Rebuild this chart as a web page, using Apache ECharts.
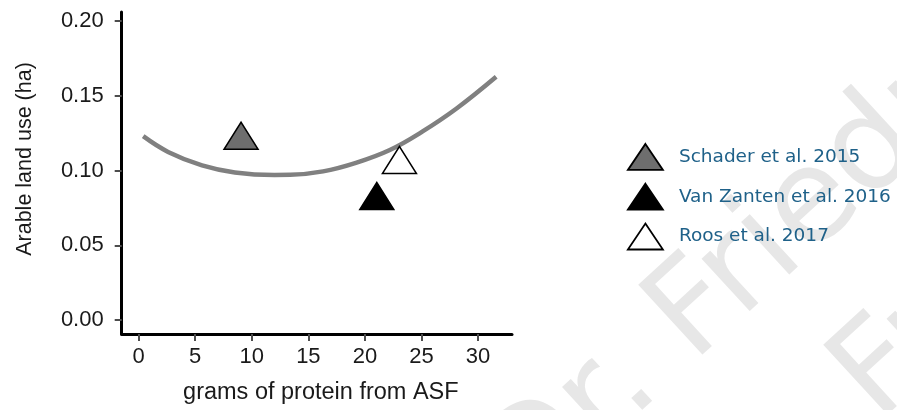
<!DOCTYPE html>
<html>
<head>
<meta charset="utf-8">
<script src="https://cdn.jsdelivr.net/npm/echarts@6/dist/echarts.min.js"></script>
<style>
  html, body { margin: 0; padding: 0; background: #ffffff; }
  #chart { width: 897px; height: 410px; }
</style>
</head>
<body>
<div id="chart"></div>
<script>
// ---- data ----
const xTicks = [0, 5, 10, 15, 20, 25, 30];
const yTicks = [0, 0.05, 0.10, 0.15, 0.20];

// fitted curve
const curveX = [0.4, 2.6, 5.6, 8.5, 12.0, 13.4, 16.3, 19.2, 22.2, 25.1, 28.1, 31.6];
const curveY = [0.123, 0.1125, 0.1035, 0.0988, 0.0971, 0.0972, 0.0995, 0.1052, 0.1138, 0.1262, 0.1415, 0.1627];

// studies
const studyNames = ['Schader et al. 2015', 'Van Zanten et al. 2016', 'Roos et al. 2017'];
const studyX = [9.05, 21.05, 23.05];
const studyY = [0.1233, 0.0830, 0.1071];
const studyFill = ['#6e6e6e', '#000000', '#ffffff'];

const xAxisName = 'grams of protein from ASF';
const yAxisName = 'Arable land use (ha)';
const watermark = 'Dr. Friedrich';

const chart = echarts.init(document.getElementById('chart'));

const series = [{
  name: 'fit',
  type: 'line',
  data: curveX.map((x, i) => [x, curveY[i]]),
  smooth: 0.4,
  showSymbol: false,
  symbol: 'none',
  lineStyle: { color: '#808080', width: 4.5 },
  silent: true,
  z: 2
}];
studyNames.forEach((n, i) => {
  series.push({
    name: n,
    type: 'scatter',
    data: [[studyX[i], studyY[i]]],
    symbol: 'triangle',
    symbolSize: [34, 27],
    itemStyle: { color: studyFill[i], borderColor: '#000000', borderWidth: 1.5, opacity: 1 },
    z: 3
  });
});

const wmStyle = { text: watermark, font: '130px "DejaVu Sans", Verdana, sans-serif', fill: '#e7e7e7', align: 'left', verticalAlign: 'bottom' };
const wmRot = 42.6 * Math.PI / 180;

const option = {
  backgroundColor: '#ffffff',
  animation: false,
  graphic: [
    { type: 'text', z: -10, silent: true, x: 549, y: 538, rotation: wmRot, style: wmStyle },
    { type: 'text', z: -10, silent: true, x: 734, y: 598, rotation: wmRot, style: wmStyle }
  ],
  grid: { left: 121.7, top: 12, width: 390.3, height: 322.5, containLabel: false },
  legend: {
    data: studyNames,
    orient: 'vertical',
    left: 622,
    top: 138,
    icon: 'triangle',
    itemWidth: 35,
    itemHeight: 26,
    itemGap: 12,
    itemStyle: { borderColor: '#000000', borderWidth: 1.8 },
    textStyle: { color: '#1f6189', fontSize: 18.5, fontFamily: '"DejaVu Sans", Verdana, sans-serif', padding: [0, 0, 0, 11] }
  },
  xAxis: {
    type: 'value',
    min: -1.5,
    max: 33,
    name: xAxisName,
    nameLocation: 'middle',
    nameGap: 47,
    nameTextStyle: { fontSize: 23.5, color: '#1a1a1a', fontFamily: '"Liberation Sans", Arial, sans-serif', padding: [0, 0, 0, 8] },
    splitLine: { show: false },
    axisLine: { show: true, onZero: false, lineStyle: { color: '#000000', width: 3 } },
    axisTick: { show: true, length: 7, lineStyle: { color: '#4d4d4d', width: 2 }, customValues: xTicks },
    axisLabel: { fontSize: 22, color: '#1a1a1a', margin: 12, fontFamily: '"Liberation Sans", Arial, sans-serif', customValues: xTicks }
  },
  yAxis: {
    type: 'value',
    min: -0.0092,
    max: 0.206,
    name: yAxisName,
    nameLocation: 'middle',
    nameGap: 86,
    nameTextStyle: { fontSize: 21.5, color: '#1a1a1a', fontFamily: '"Liberation Sans", Arial, sans-serif', padding: [0, 0, 0, 28] },
    splitLine: { show: false },
    axisLine: { show: true, onZero: false, lineStyle: { color: '#000000', width: 3 } },
    axisTick: { show: true, length: 7, lineStyle: { color: '#4d4d4d', width: 2 }, customValues: yTicks },
    axisLabel: {
      fontSize: 22, color: '#1a1a1a', margin: 18, fontFamily: '"Liberation Sans", Arial, sans-serif',
      customValues: yTicks,
      formatter: v => Number(v).toFixed(2)
    }
  },
  series: series
};

chart.setOption(option);
</script>
</body>
</html>
